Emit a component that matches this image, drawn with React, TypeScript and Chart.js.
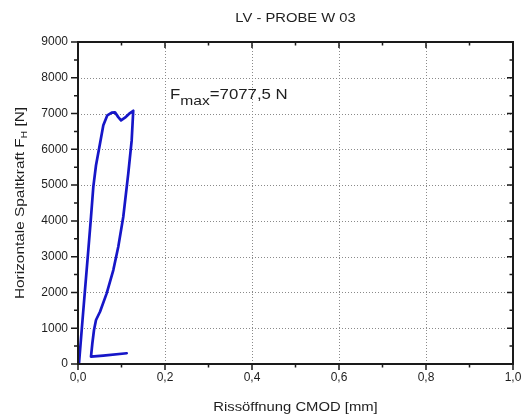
import React, { useEffect, useRef } from "react";
import { Chart, registerables } from "chart.js";

Chart.register(...registerables);

// ---- text ----
const TITLE = "LV - PROBE W 03";
const X_TITLE = "Rissöffnung CMOD [mm]";
const Y_TITLE_MAIN = "Horizontale Spaltkraft F";
const Y_TITLE_SUB = "H";
const Y_TITLE_END = " [N]";
const ANNOT_MAIN = "F";
const ANNOT_SUB = "max";
const ANNOT_VALUE = "=7077,5 N";
const ANNOT_AT_CMOD = 0.2115;
const ANNOT_AT_FORCE = 7395;

// ---- axes ----
const X_MIN = 0;
const X_MAX = 1;
const X_STEP = 0.2;
const X_MINOR = 0.1;
const Y_MIN = 0;
const Y_MAX = 9000;
const Y_STEP = 1000;
const Y_MINOR = 500;

// ---- data (CMOD [mm], force [N]) ----
const cmod = [
  0, 0.0023, 0.0085, 0.0161, 0.0237, 0.0299, 0.0352, 0.0414, 0.0506, 0.0582,
  0.0674, 0.0775, 0.085, 0.0926, 0.0989, 0.108, 0.1195, 0.127,
  0.1234, 0.1156, 0.1041, 0.0926, 0.0812, 0.0659, 0.0506, 0.0414, 0.0368,
  0.033, 0.0299, 0.058, 0.112,
];
const force = [
  0, 20, 950, 2070, 3185, 4115, 4950, 5555, 6160, 6670,
  6950, 7025, 7035, 6900, 6810, 6885, 7015, 7077.5,
  6250, 5325, 4115, 3275, 2625, 1975, 1460, 1230, 950,
  580, 205, 235, 300,
];

const FONT = "'Liberation Sans', Arial, Helvetica, sans-serif";
const LINE_COLOR = "#1616c8";
const TEXT_COLOR = "#1e1e1e";

function drawPieces(
  ctx: CanvasRenderingContext2D,
  pieces: { text: string; size: number; dy: number }[],
  sx: number
) {
  let x = 0;
  for (const p of pieces) {
    ctx.font = `${p.size}px ${FONT}`;
    const w = ctx.measureText(p.text).width;
    ctx.save();
    ctx.translate(x, p.dy);
    ctx.scale(sx, 1);
    ctx.fillText(p.text, 0, 0);
    ctx.restore();
    x += w * sx;
  }
}

function widthOf(
  ctx: CanvasRenderingContext2D,
  pieces: { text: string; size: number; dy: number }[],
  sx: number
) {
  let w = 0;
  for (const p of pieces) {
    ctx.font = `${p.size}px ${FONT}`;
    w += ctx.measureText(p.text).width * sx;
  }
  return w;
}

const framePlugin = {
  id: "originFrame",
  beforeDatasetsDraw(chart: any) {
    const { ctx, chartArea: a, scales } = chart;
    const xs = scales.x;
    const ys = scales.y;
    ctx.save();
    ctx.strokeStyle = "#8a8a8a";
    ctx.lineWidth = 1;
    ctx.setLineDash([1, 2]);
    for (let v = X_MIN + X_STEP; v < X_MAX - 1e-9; v += X_STEP) {
      const px = Math.round(xs.getPixelForValue(v)) + 0.5;
      ctx.beginPath();
      ctx.moveTo(px, a.top);
      ctx.lineTo(px, a.bottom);
      ctx.stroke();
    }
    for (let v = Y_MIN + Y_STEP; v < Y_MAX - 1e-9; v += Y_STEP) {
      const py = Math.round(ys.getPixelForValue(v)) + 0.5;
      ctx.beginPath();
      ctx.moveTo(a.left, py);
      ctx.lineTo(a.right, py);
      ctx.stroke();
    }
    ctx.restore();
  },
  afterDraw(chart: any) {
    const { ctx, chartArea: a, scales } = chart;
    const xs = scales.x;
    const ys = scales.y;
    ctx.save();
    ctx.setLineDash([]);
    ctx.strokeStyle = "#1a1a1a";
    ctx.lineWidth = 1.5;
    const nx = Math.round((X_MAX - X_MIN) / X_MINOR);
    for (let i = 0; i <= nx; i++) {
      const v = X_MIN + i * X_MINOR;
      const major = i % Math.round(X_STEP / X_MINOR) === 0;
      const px = xs.getPixelForValue(v);
      const lo = major ? 6 : 3.5;
      const li = major ? 6 : 3.5;
      ctx.beginPath();
      ctx.moveTo(px, a.bottom);
      ctx.lineTo(px, a.bottom + lo);
      ctx.moveTo(px, a.top);
      ctx.lineTo(px, a.top + li);
      ctx.stroke();
    }
    const ny = Math.round((Y_MAX - Y_MIN) / Y_MINOR);
    for (let i = 0; i <= ny; i++) {
      const v = Y_MIN + i * Y_MINOR;
      const major = i % Math.round(Y_STEP / Y_MINOR) === 0;
      const py = ys.getPixelForValue(v);
      const lo = major ? 7 : 4;
      const li = major ? 6 : 3.5;
      ctx.beginPath();
      ctx.moveTo(a.left, py);
      ctx.lineTo(a.left - lo, py);
      ctx.moveTo(a.right, py);
      ctx.lineTo(a.right - li, py);
      ctx.stroke();
    }
    ctx.lineWidth = 2;
    ctx.strokeRect(a.left, a.top, a.right - a.left, a.bottom - a.top);

    ctx.fillStyle = TEXT_COLOR;
    ctx.textBaseline = "alphabetic";
    ctx.textAlign = "left";
    const cx = (a.left + a.right) / 2;

    {
      const pieces = [{ text: TITLE, size: 13, dy: 0 }];
      const w = widthOf(ctx, pieces, 1.135);
      ctx.save();
      ctx.translate(cx - w / 2, 21.5);
      drawPieces(ctx, pieces, 1.135);
      ctx.restore();
    }
    {
      const pieces = [{ text: X_TITLE, size: 13, dy: 0 }];
      const w = widthOf(ctx, pieces, 1.14);
      ctx.save();
      ctx.translate(cx - w / 2, 410.5);
      drawPieces(ctx, pieces, 1.14);
      ctx.restore();
    }
    {
      const pieces = [
        { text: Y_TITLE_MAIN, size: 13.5, dy: 0 },
        { text: Y_TITLE_SUB, size: 9, dy: 3 },
        { text: Y_TITLE_END, size: 13.5, dy: 0 },
      ];
      const w = widthOf(ctx, pieces, 1.14);
      ctx.save();
      ctx.translate(24, (a.top + a.bottom) / 2);
      ctx.rotate(-Math.PI / 2);
      ctx.translate(-w / 2, 0);
      drawPieces(ctx, pieces, 1.14);
      ctx.restore();
    }
    {
      const pieces = [
        { text: ANNOT_MAIN, size: 14, dy: 0 },
        { text: ANNOT_SUB, size: 13, dy: 6 },
        { text: ANNOT_VALUE, size: 14, dy: 0 },
      ];
      ctx.save();
      ctx.translate(xs.getPixelForValue(ANNOT_AT_CMOD), ys.getPixelForValue(ANNOT_AT_FORCE));
      drawPieces(ctx, pieces, 1.2);
      ctx.restore();
    }
    ctx.restore();
  },
};

export default function App() {
  const ref = useRef<HTMLCanvasElement | null>(null);

  useEffect(() => {
    if (!ref.current) return;
    const points = cmod.map((x, i) => ({ x, y: force[i] }));
    const chart = new Chart(ref.current, {
      type: "scatter",
      data: {
        datasets: [
          {
            label: "LV - PROBE W 03",
            data: points,
            showLine: true,
            borderColor: LINE_COLOR,
            backgroundColor: LINE_COLOR,
            borderWidth: 2.7,
            pointRadius: 0,
            tension: 0,
            borderJoinStyle: "round",
            borderCapStyle: "round",
          } as any,
        ],
      },
      options: {
        responsive: false,
        animation: false,
        devicePixelRatio: 1,
        layout: { padding: { top: 42, right: 9, left: 0, bottom: 0 } },
        plugins: {
          legend: { display: false },
          title: { display: false },
          tooltip: { enabled: false },
        },
        scales: {
          x: {
            type: "linear",
            min: X_MIN,
            max: X_MAX,
            grid: { display: false, drawTicks: false },
            border: { display: false },
            ticks: {
              stepSize: X_STEP,
              autoSkip: false,
              maxRotation: 0,
              padding: 6,
              color: TEXT_COLOR,
              font: { family: FONT, size: 12 },
              callback: (v: any) => Number(v).toFixed(1).replace(".", ","),
            },
            afterFit: (s: any) => {
              s.height = 52;
              s.paddingLeft = 0;
              s.paddingRight = 0;
            },
          },
          y: {
            type: "linear",
            min: Y_MIN,
            max: Y_MAX,
            grid: { display: false, drawTicks: false },
            border: { display: false },
            ticks: {
              stepSize: Y_STEP,
              autoSkip: false,
              padding: 10,
              color: TEXT_COLOR,
              font: { family: FONT, size: 12 },
              callback: (v: any) => String(Math.round(Number(v))),
            },
            afterFit: (s: any) => {
              s.width = 78;
              s.paddingTop = 0;
              s.paddingBottom = 0;
            },
          },
        },
      },
      plugins: [framePlugin],
    });
    return () => chart.destroy();
  }, []);

  return (
    <div style={{ position: "absolute", left: 0, top: 0, width: 522, height: 416, background: "#fff" }}>
      <canvas ref={ref} width={522} height={416} style={{ display: "block" }} />
    </div>
  );
}
